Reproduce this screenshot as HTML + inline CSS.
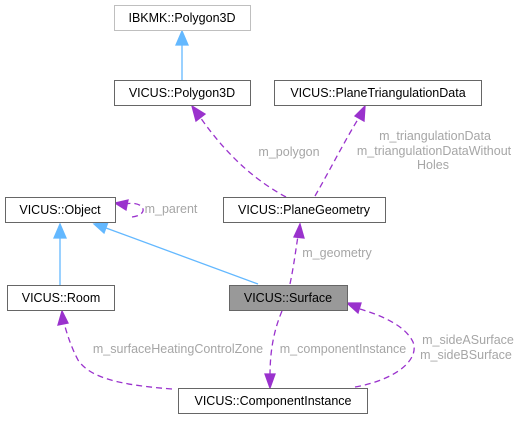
<!DOCTYPE html>
<html><head><style>
body{margin:0;background:#fff;}
svg text{font-family:"Liberation Sans",Arial,sans-serif;font-size:12.5px;}
</style></head><body>
<svg width="523" height="419" viewBox="0 0 523 419" xmlns="http://www.w3.org/2000/svg">
<defs>
<marker id="b" markerWidth="10" markerHeight="10" refX="9" refY="5" orient="auto" markerUnits="userSpaceOnUse"><path d="M0,0 L10,5 L0,10 z" fill="#63b8ff"/></marker>
</defs>
<g fill="none" stroke-width="1.3">
<!-- blue inheritance -->
<line x1="182" y1="80" x2="182" y2="44" stroke="#63b8ff"/>
<path d="M176,45 L182,31 L188,45 z" fill="#63b8ff" stroke="#63b8ff"/>
<line x1="60" y1="285" x2="60" y2="237" stroke="#63b8ff"/>
<path d="M54,238 L60,224 L66,238 z" fill="#63b8ff" stroke="#63b8ff"/>
<line x1="258" y1="284" x2="106" y2="228" stroke="#63b8ff"/>
<path d="M108,222 L94,224 L104,233 z" fill="#63b8ff" stroke="#63b8ff"/>
<!-- purple dashed -->
<g stroke="#9a32cd" stroke-dasharray="6,4">
<path d="M286,197 C260,183 230,160 200,117"/>
<path d="M315,196 C330,170 345,140 360,116"/>
<path d="M132,217 C150,215 145,200 125,204"/>
<path d="M290,284 C294,265 296,248 298,236"/>
<path d="M282,311 C274,330 270,350 270,376"/>
<path d="M172,389 C120,385 90,378 78,360 C70,345 66,330 64,323"/>
<path d="M355,387 C395,380 420,360 413,342 C405,325 380,315 360,309"/>
</g>
<g fill="#9a32cd" stroke="#9a32cd">
<path d="M192,106 L205,114 L196,121 z"/>
<path d="M365,106 L364,121 L355,116 z"/>
<path d="M115,203 L128,200 L126,210 z"/>
<path d="M300,224 L304,238 L294,237 z"/>
<path d="M270,388 L265,374 L275,374 z"/>
<path d="M62,311 L58,325 L68,323 z"/>
<path d="M347,303 L361,303 L358,313 z"/>
</g>
</g>
<!-- nodes -->
<g stroke-width="1">
<rect x="114.5" y="5.5" width="136" height="25" fill="#fff" stroke="#bfbfbf"/>
<rect x="114.5" y="80.5" width="136" height="25" fill="#fff" stroke="#666"/>
<rect x="274.5" y="80.5" width="207" height="25" fill="#fff" stroke="#666"/>
<rect x="5.5" y="197.5" width="110" height="25" fill="#fff" stroke="#666"/>
<rect x="223.5" y="197.5" width="162" height="25" fill="#fff" stroke="#666"/>
<rect x="7.5" y="285.5" width="107" height="25" fill="#fff" stroke="#666"/>
<rect x="229.5" y="285.5" width="118" height="25" fill="#999" stroke="#666"/>
<rect x="178.5" y="388.5" width="189" height="25" fill="#fff" stroke="#666"/>
</g>
<g fill="#000" text-anchor="middle">
<text x="182" y="22">IBKMK::Polygon3D</text>
<text x="182" y="97">VICUS::Polygon3D</text>
<text x="378" y="97">VICUS::PlaneTriangulationData</text>
<text x="60" y="214">VICUS::Object</text>
<text x="304" y="214">VICUS::PlaneGeometry</text>
<text x="61" y="302">VICUS::Room</text>
<text x="288" y="302">VICUS::Surface</text>
<text x="273" y="405">VICUS::ComponentInstance</text>
</g>
<g fill="#a6a6a6" text-anchor="middle">
<text x="289" y="156">m_polygon</text>
<text x="435" y="140">m_triangulationData</text>
<text x="434" y="155">m_triangulationDataWithout</text>
<text x="433" y="169">Holes</text>
<text x="171" y="213">m_parent</text>
<text x="337" y="257">m_geometry</text>
<text x="178" y="353">m_surfaceHeatingControlZone</text>
<text x="343" y="353">m_componentInstance</text>
<text x="468" y="344">m_sideASurface</text>
<text x="466" y="359">m_sideBSurface</text>
</g>
</svg>
</body></html>
